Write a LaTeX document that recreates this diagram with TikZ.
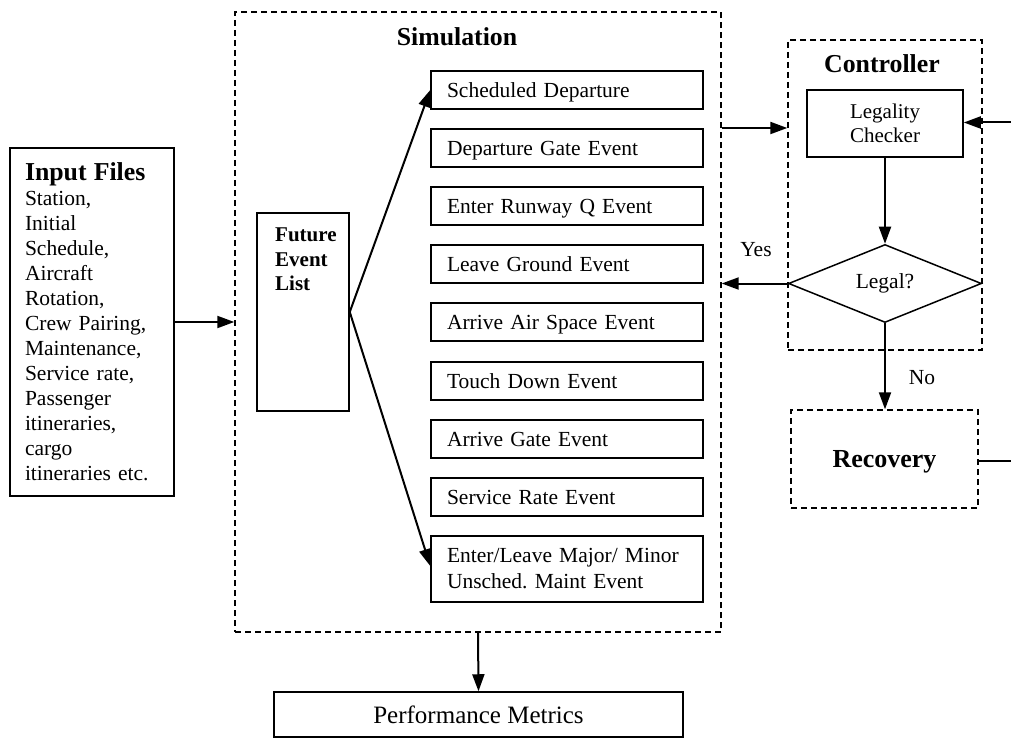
\documentclass[tikz,border=0pt]{standalone}
\usepackage{fontspec}
\setmainfont{Liberation Serif}
\usetikzlibrary{arrows.meta,shapes.geometric}
\frenchspacing
\tikzset{
  arr/.style={draw, line width=2pt, -{Triangle[length=17pt,width=12pt]}},
  plain/.style={draw, line width=2pt},
  solidbox/.style={draw, line width=1.5pt, rectangle, inner sep=0pt},
  dashbox/.style={draw, line width=1.4pt, dash pattern=on 6pt off 4pt, rectangle, inner sep=0pt},
  evbox/.style={solidbox, minimum width=272pt, minimum height=38pt, text width=240pt, inner xsep=16pt, text depth=0pt, align=left, font=\fontsize{21.5}{26}\selectfont},
  titletext/.style={font=\fontsize{25.8}{28}\selectfont\bfseries},
  lbl/.style={font=\fontsize{21.5}{25}\selectfont}
}
\begin{document}
\begin{tikzpicture}[x=1pt,y=-1pt]
\useasboundingbox[fill=white] (0,0) rectangle (1011,738);

% Simulation container
\node[dashbox, minimum width=486pt, minimum height=620pt] (sim) at (478,322) {};
\node[titletext] (simtitle) at (457,37) {Simulation};

% Input files
\node[solidbox, minimum width=164pt, minimum height=348pt, text width=134pt, inner xsep=15pt, align=left, font=\fontsize{21.5}{25}\selectfont] (input) at (92,322)
  {{\fontsize{25.8}{25}\selectfont\bfseries Input Files}\\Station,\\Initial\\Schedule,\\Aircraft\\Rotation,\\Crew Pairing,\\Maintenance,\\Service rate,\\Passenger\\itineraries,\\cargo\\itineraries etc.};

% Future event list
\node[solidbox, minimum width=92pt, minimum height=198pt] (fel) at (303,312) {};
\node[anchor=north west, align=left, inner sep=0pt, font=\fontsize{21}{24.5}\selectfont\bfseries] (feltext) at (275,228) {Future\\Event\\List};

% Events
\node[evbox] (ev1) at (567,90) {Scheduled Departure};
\node[evbox] (ev2) at (567,148) {Departure Gate Event};
\node[evbox] (ev3) at (567,206) {Enter Runway Q Event};
\node[evbox] (ev4) at (567,264) {Leave Ground Event};
\node[evbox] (ev5) at (567,322) {Arrive Air Space Event};
\node[evbox] (ev6) at (567,381) {Touch Down Event};
\node[evbox] (ev7) at (567,439) {Arrive Gate Event};
\node[evbox] (ev8) at (567,497) {Service Rate Event};
\node[evbox, minimum height=66pt, text depth=27pt] (ev9) at (567,569) {Enter/Leave Major/ Minor\\Unsched. Maint Event};

% Controller
\node[dashbox, minimum width=194pt, minimum height=310pt] (ctrl) at (885,195) {};
\node[titletext] (ctrltitle) at (882,64) {Controller};
\node[solidbox, minimum width=156pt, minimum height=67pt, align=center, font=\fontsize{21}{24.5}\selectfont] (lc) at (885,123.5) {Legality\\Checker};
\node[draw, line width=1.5pt, diamond, minimum width=193pt, minimum height=77pt, inner sep=0pt, font=\fontsize{21.5}{25}\selectfont] (legal) at (885,283.5) {Legal?};

% Recovery
\node[dashbox, minimum width=187pt, minimum height=98pt, text depth=0pt, font=\fontsize{26}{28}\selectfont\bfseries] (rec) at (884.5,459) {Recovery};

% Performance metrics
\node[solidbox, minimum width=409pt, minimum height=45pt, text depth=0pt, font=\fontsize{25}{28}\selectfont] (pm) at (478.5,714.5) {Performance Metrics};

% Labels
\node[lbl] (yes) at (756,250) {Yes};
\node[lbl] (no) at (922,378) {No};

% Free ends at the right border
\coordinate (rin) at (1011,122.5);
\coordinate (rout) at (1011,461);

% Connectors
\draw[arr] (input.east) -- (sim.west);
\draw[arr] (fel.east) -- (ev1.west);
\draw[arr] (fel.east) -- ([yshift=3pt]ev9.west);
\draw[arr] ([yshift=-4.5pt]sim.east |- lc.center) -- ([yshift=-4.5pt]ctrl.west |- lc.center);
\draw[arr] (rin) -- (lc.east |- rin);
\draw[arr] (lc.south) -- (legal.north);
\draw[arr] (legal.west) -- (sim.east |- legal.west);
\draw[arr] (legal.south) -- (legal.south |- rec.north);
\draw[plain] ([yshift=-2pt]rec.east) -- (rout);
\draw[arr] (sim.south) -- (pm.north);
\end{tikzpicture}
\end{document}
